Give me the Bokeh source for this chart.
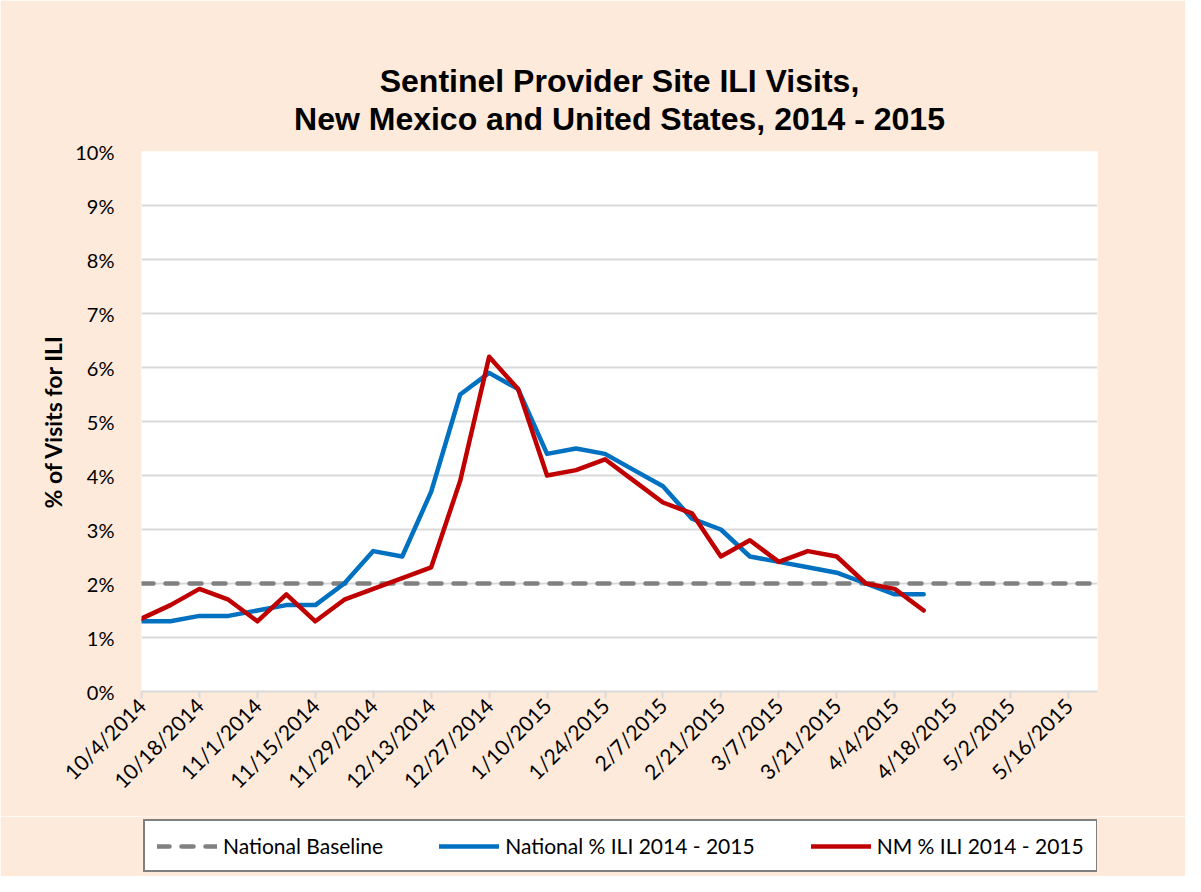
from math import pi
from bokeh.plotting import figure
from bokeh.layouts import column
from bokeh.models import Range1d, FixedTicker, Legend, LegendItem, Title
from bokeh.embed import file_html
from bokeh.resources import INLINE

# ---- data ----
weeks = ["10/4/2014", "10/11/2014", "10/18/2014", "10/25/2014", "11/1/2014", "11/8/2014",
         "11/15/2014", "11/22/2014", "11/29/2014", "12/6/2014", "12/13/2014", "12/20/2014",
         "12/27/2014", "1/3/2015", "1/10/2015", "1/17/2015", "1/24/2015", "1/31/2015",
         "2/7/2015", "2/14/2015", "2/21/2015", "2/28/2015", "3/7/2015", "3/14/2015",
         "3/21/2015", "3/28/2015", "4/4/2015", "4/11/2015", "4/18/2015", "4/25/2015",
         "5/2/2015", "5/9/2015", "5/16/2015", "5/23/2015"]
national_ili = [1.3, 1.3, 1.4, 1.4, 1.5, 1.6, 1.6, 2.0, 2.6, 2.5, 3.7, 5.5, 5.9, 5.6,
                4.4, 4.5, 4.4, 4.1, 3.8, 3.2, 3.0, 2.5, 2.4, 2.3, 2.2, 2.0, 1.8, 1.8]
nm_ili = [1.35, 1.6, 1.9, 1.7, 1.3, 1.8, 1.3, 1.7, 1.9, 2.1, 2.3, 3.9, 6.2, 5.6,
          4.0, 4.1, 4.3, 3.9, 3.5, 3.3, 2.5, 2.8, 2.4, 2.6, 2.5, 2.0, 1.9, 1.5]
national_baseline = 2.0
y_ticks = [0, 1, 2, 3, 4, 5, 6, 7, 8, 9, 10]
x_tick_idx = list(range(0, len(weeks), 2))
title_lines = ["Sentinel Provider Site ILI Visits,", "New Mexico and United States, 2014 - 2015"]
series_labels = ["National Baseline", "National % ILI 2014 - 2015", "NM % ILI 2014 - 2015"]

BG = "#FDEADA"
GRID = "#D9D9D9"
TICKFONT = "Lato"
TITLEFONT = "Liberation Sans"
BASE_STYLE = dict(line_color="#808080", line_width=4.5, line_dash="12 12", line_cap="round")
NAT_STYLE = dict(line_color="#0070C0", line_width=4.5, line_join="round", line_cap="round")
NM_STYLE = dict(line_color="#C00000", line_width=4.5, line_join="round", line_cap="round")

W = 1185
p = figure(width=W, height=816, output_backend="svg", toolbar_location=None, title=None,
           x_range=Range1d(0, len(weeks) - 1), y_range=Range1d(y_ticks[0], y_ticks[-1]),
           min_border_left=141, min_border_right=88, min_border_top=151, min_border_bottom=125,
           background_fill_color="white", border_fill_color=BG, outline_line_color=None)

# two centred title lines (closest to the plot first)
for line, standoff in [(title_lines[1], 30), (title_lines[0], -30)]:
    p.add_layout(Title(text=line, align="center", text_font=TITLEFONT, text_font_style="bold",
                       text_font_size="32px", text_color="black", standoff=standoff), "above")

# y axis
p.yaxis.ticker = FixedTicker(ticks=y_ticks)
p.yaxis.major_label_overrides = {t: f"{t}%" for t in y_ticks}
p.yaxis.axis_line_color = None
p.yaxis.major_tick_line_color = None
p.yaxis.minor_tick_line_color = None
p.yaxis.major_label_standoff = 21
p.yaxis.major_label_text_font = TICKFONT
p.yaxis.major_label_text_font_size = "20px"
p.yaxis.major_label_text_color = "black"
p.yaxis.axis_label = "% of Visits for ILI"
p.yaxis.axis_label_text_font = TICKFONT
p.yaxis.axis_label_text_font_style = "bold"
p.yaxis.axis_label_text_font_size = "23px"
p.yaxis.axis_label_standoff = 5
p.yaxis.axis_label_text_color = "black"

# x axis
p.xaxis.ticker = FixedTicker(ticks=x_tick_idx)
p.xaxis.major_label_overrides = {i: weeks[i] for i in x_tick_idx}
p.xaxis.major_label_orientation = pi / 4
p.xaxis.axis_line_color = GRID
p.xaxis.axis_line_width = 2
p.xaxis.major_tick_line_color = GRID
p.xaxis.major_tick_line_width = 2
p.xaxis.major_tick_in = 0
p.xaxis.major_tick_out = 7
p.xaxis.minor_tick_line_color = None
p.xaxis.major_label_text_font = TICKFONT
p.xaxis.major_label_text_font_size = "21px"
p.xaxis.major_label_text_color = "black"
p.xaxis.major_label_standoff = 3

p.ygrid.ticker = FixedTicker(ticks=y_ticks)
p.ygrid.grid_line_color = GRID
p.ygrid.grid_line_width = 2
p.xgrid.grid_line_color = None

x_all = list(range(len(weeks)))
x_nat = list(range(len(national_ili)))
x_nm = list(range(len(nm_ili)))
base_y = [national_baseline] * len(weeks)
p.line(x_all, base_y, **BASE_STYLE)
p.line(x_nat, national_ili, **NAT_STYLE)
p.line(x_nm, nm_ili, **NM_STYLE)

# legend strip below the chart: hidden copies of the three series feed its legend
lg = figure(width=W, height=60, output_backend="svg", toolbar_location=None, title=None,
            x_range=Range1d(0, len(weeks) - 1), y_range=Range1d(y_ticks[0], y_ticks[-1]),
            x_axis_type=None, y_axis_type=None,
            min_border_left=141, min_border_right=88, min_border_top=0, min_border_bottom=0,
            background_fill_color=BG, border_fill_color=BG, outline_line_color=None)
lg.xgrid.visible = False
lg.ygrid.visible = False
rb = lg.line(x_all, base_y, visible=False, **BASE_STYLE)
rn = lg.line(x_nat, national_ili, visible=False, **NAT_STYLE)
rm = lg.line(x_nm, nm_ili, visible=False, **NM_STYLE)
legend = Legend(items=[LegendItem(label=series_labels[0], renderers=[rb]),
                       LegendItem(label=series_labels[1], renderers=[rn]),
                       LegendItem(label=series_labels[2], renderers=[rm])],
                location=(2, 4), orientation="horizontal", padding=12, spacing=56,
                glyph_width=60, glyph_height=20, label_standoff=6, margin=0,
                border_line_color="black", border_line_width=2,
                background_fill_color="white", background_fill_alpha=1.0,
                inactive_fill_alpha=0.0, click_policy="none",
                label_text_font=TICKFONT, label_text_font_size="21px", label_text_color="black")
lg.add_layout(legend)

layout = column(p, lg, spacing=0)
open("out.html", "w").write(file_html(layout, INLINE))
